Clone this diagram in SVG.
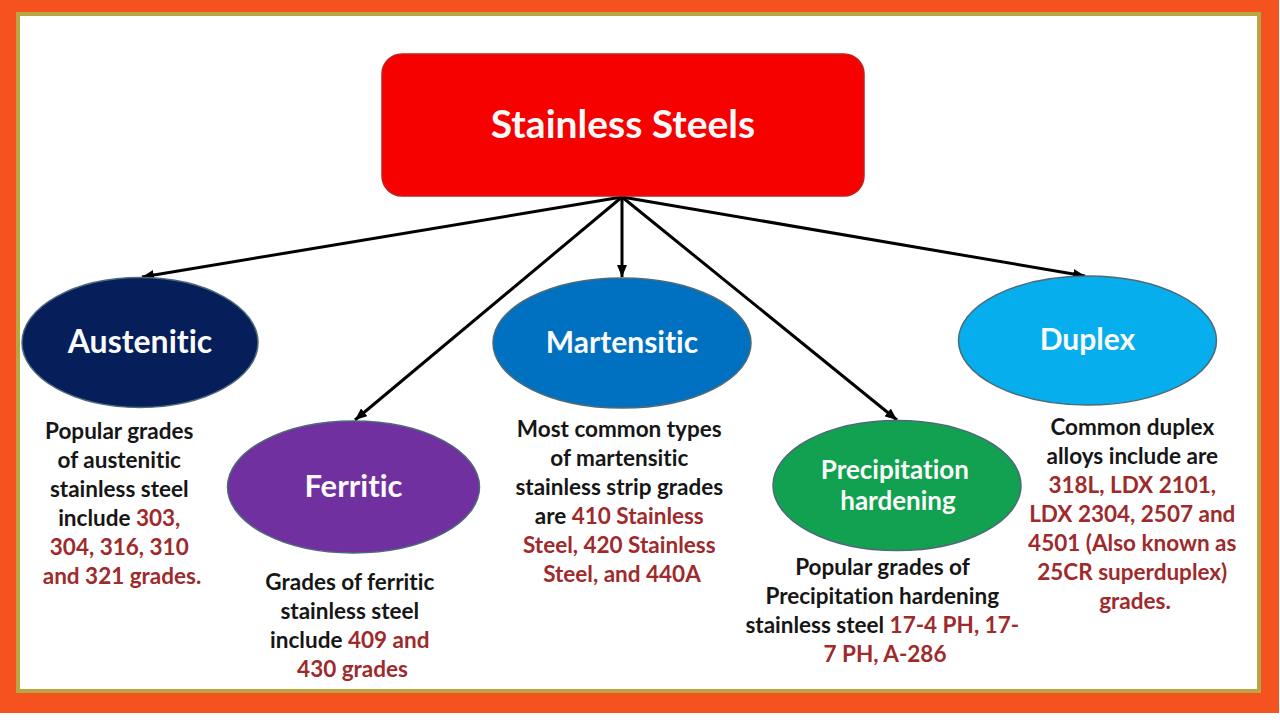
<svg xmlns="http://www.w3.org/2000/svg" width="1280" height="720" viewBox="0 0 1280 720">
<style>
.title{font-family:Lato,"Open Sans","Liberation Sans",sans-serif;font-weight:bold;fill:#fafafa;text-anchor:middle;font-variant-ligatures:none}
.desc{font-family:Lato,"Open Sans","Liberation Sans",sans-serif;font-weight:bold;font-size:22.5px;fill:#161616;text-anchor:middle;font-variant-ligatures:none}
.num{fill:#9f2a2c}
.node{stroke:#4d6a78;stroke-width:1.5}
.conn{stroke:#000;stroke-width:3;fill:none;marker-end:url(#arr)}
</style>
<defs>
<marker id="arr" markerUnits="userSpaceOnUse" viewBox="0 0 12 10" refX="12" refY="5" markerWidth="12" markerHeight="10" orient="auto">
<path d="M0,0 L12,5 L0,10 Z" fill="#000"/>
</marker>
</defs>
<rect x="0" y="0" width="1280" height="720" fill="#ffffff"/>
<rect x="0" y="0" width="1279" height="713" fill="#f4531f"/>
<rect x="18" y="14" width="1241" height="677" fill="#ffffff" stroke="#b9a544" stroke-width="4"/>

<g id="connectors">
<line class="conn" x1="622" y1="197" x2="142" y2="277"/>
<line class="conn" x1="622" y1="197" x2="355" y2="420"/>
<line class="conn" x1="622" y1="197" x2="622" y2="277"/>
<line class="conn" x1="622" y1="197" x2="897" y2="420"/>
<line class="conn" x1="622" y1="197" x2="1085" y2="276"/>
</g>

<g id="stainless-steels">
<rect x="382" y="54" width="482" height="142" rx="20" ry="20" fill="#f70000" stroke="#c02020" stroke-width="1.5"/>
<text class="title" x="623" y="138" font-size="39">Stainless Steels</text>
</g>

<g id="austenitic">
<ellipse class="node" cx="140" cy="342.5" rx="118" ry="65" fill="#061f5a"/>
<text class="title" x="140" y="353" font-size="32">Austenitic</text>
<text class="desc">
<tspan x="122" y="439">Popular grades</tspan>
<tspan x="122" y="468">of austenitic</tspan>
<tspan x="122" y="497">stainless steel</tspan>
<tspan x="122" y="526">include <tspan class="num">303,</tspan></tspan>
<tspan x="122" y="555" class="num">304, 316, 310</tspan>
<tspan x="122" y="584" class="num">and 321 grades.</tspan>
</text>
</g>

<g id="ferritic">
<ellipse class="node" cx="353.5" cy="487" rx="126" ry="66" fill="#7030a0"/>
<text class="title" x="353.5" y="497" font-size="31">Ferritic</text>
<text class="desc">
<tspan x="352.5" y="590">Grades of ferritic</tspan>
<tspan x="352.5" y="619">stainless steel</tspan>
<tspan x="352.5" y="648">include <tspan class="num">409 and</tspan></tspan>
<tspan x="352.5" y="677" class="num">430 grades</tspan>
</text>
</g>

<g id="martensitic">
<ellipse class="node" cx="622" cy="343" rx="129" ry="65" fill="#0070c0"/>
<text class="title" x="622" y="353" font-size="30">Martensitic</text>
<text class="desc">
<tspan x="622" y="437">Most common types</tspan>
<tspan x="622" y="466">of martensitic</tspan>
<tspan x="622" y="495">stainless strip grades</tspan>
<tspan x="622" y="524">are <tspan class="num">410 Stainless</tspan></tspan>
<tspan x="622" y="553" class="num">Steel, 420 Stainless</tspan>
<tspan x="622" y="582" class="num">Steel, and 440A</tspan>
</text>
</g>

<g id="precipitation-hardening">
<ellipse class="node" cx="897" cy="485.5" rx="124" ry="65" fill="#12a150"/>
<text class="title" font-size="26">
<tspan x="898" y="479">Precipitation</tspan>
<tspan x="898" y="510">hardening</tspan>
</text>
<text class="desc">
<tspan x="885" y="575">Popular grades of</tspan>
<tspan x="885" y="604">Precipitation hardening</tspan>
<tspan x="885" y="633">stainless steel <tspan class="num">17-4 PH, 17-</tspan></tspan>
<tspan x="885" y="662" class="num">7 PH, A-286</tspan>
</text>
</g>

<g id="duplex">
<ellipse class="node" cx="1087.5" cy="340.5" rx="129" ry="64.5" fill="#07aeed"/>
<text class="title" x="1087.5" y="350" font-size="30">Duplex</text>
<text class="desc">
<tspan x="1135" y="435">Common duplex</tspan>
<tspan x="1135" y="464">alloys include are</tspan>
<tspan x="1135" y="493" class="num">318L, LDX 2101,</tspan>
<tspan x="1135" y="522" class="num">LDX 2304, 2507 and</tspan>
<tspan x="1135" y="551" class="num">4501 (Also known as</tspan>
<tspan x="1135" y="580" class="num">25CR superduplex)</tspan>
<tspan x="1135" y="609" class="num">grades.</tspan>
</text>
</g>
</svg>
